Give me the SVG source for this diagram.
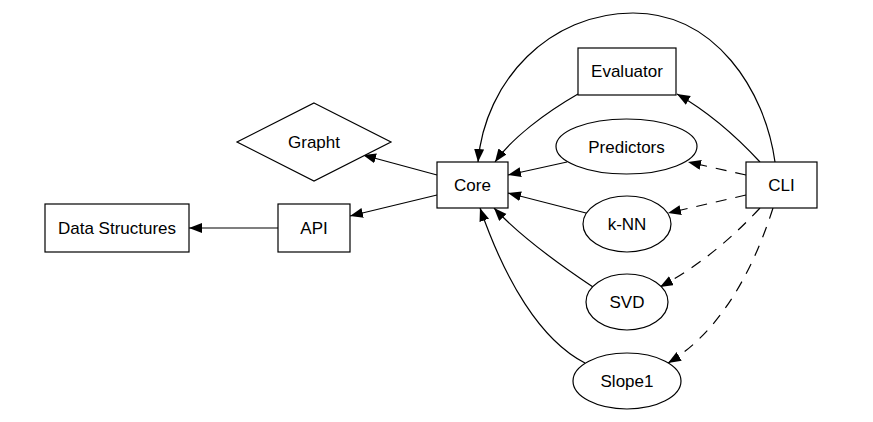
<svg xmlns="http://www.w3.org/2000/svg" width="873" height="422" viewBox="0 0 873 422">
<style>
.n{fill:#fff;stroke:#000;stroke-width:1.2}
.t{font-family:"Liberation Sans",Arial,sans-serif;font-size:17px;text-anchor:middle;fill:#000}
.e{fill:none;stroke:#000;stroke-width:1.2;marker-end:url(#ah)}
.d{stroke-dasharray:11,9}
</style>
<defs>
<marker id="ah" markerUnits="userSpaceOnUse" markerWidth="14" markerHeight="11" refX="13" refY="5" orient="auto">
<path d="M0,0 L13,5 L0,10 z" fill="#000"/>
</marker>
</defs>
<rect width="873" height="422" fill="#fff"/>
<g id="edges">
<path class="e" d="M278,228 L189,228"/>
<path class="e" d="M437,195 L350,216"/>
<path class="e" d="M437,175 L363,155"/>
<path class="e" d="M567,162 L508,175"/>
<path class="e" d="M586,213 L508,193"/>
<path class="e" d="M593,287 C560,265 520,236 494,208"/>
<path class="e" d="M585,363 C540,340 505,280 480,208"/>
<path class="e" d="M578,94 C545,113 512,138 495,162"/>
<path class="e" d="M775,162 C765,90 715,13 633,13 C550,13 485,80 478,162"/>
<path class="e" d="M760,162 C735,135 705,110 677,94"/>
<path class="e d" d="M746,175 L688,162"/>
<path class="e d" d="M746,195 L668,213"/>
<path class="e d" d="M760,208 C730,240 700,265 660,287"/>
<path class="e d" d="M773,208 C750,280 715,335 668,363"/>
</g>
<g id="node-datastructures"><rect class="n" x="45" y="204" width="144" height="48"/><text class="t" x="117" y="234">Data Structures</text></g>
<g id="node-api"><rect class="n" x="278" y="204" width="72" height="48"/><text class="t" x="314" y="234">API</text></g>
<g id="node-grapht"><polygon class="n" points="314,103 391,142 314,181 237,142"/><text class="t" x="314" y="148">Grapht</text></g>
<g id="node-core"><rect class="n" x="437" y="162" width="71" height="46"/><text class="t" x="472.5" y="191">Core</text></g>
<g id="node-evaluator"><rect class="n" x="578" y="48" width="98" height="47"/><text class="t" x="627" y="77">Evaluator</text></g>
<g id="node-predictors"><ellipse class="n" cx="626.5" cy="146.5" rx="70.5" ry="27.5"/><text class="t" x="626.5" y="152.5">Predictors</text></g>
<g id="node-knn"><ellipse class="n" cx="627" cy="224" rx="44" ry="28"/><text class="t" x="627" y="230">k-NN</text></g>
<g id="node-svd"><ellipse class="n" cx="627" cy="302" rx="41" ry="28"/><text class="t" x="627" y="308">SVD</text></g>
<g id="node-slope1"><ellipse class="n" cx="627" cy="381" rx="54" ry="28"/><text class="t" x="627" y="387">Slope1</text></g>
<g id="node-cli"><rect class="n" x="746" y="162" width="71" height="46"/><text class="t" x="781.5" y="191">CLI</text></g>
</svg>
